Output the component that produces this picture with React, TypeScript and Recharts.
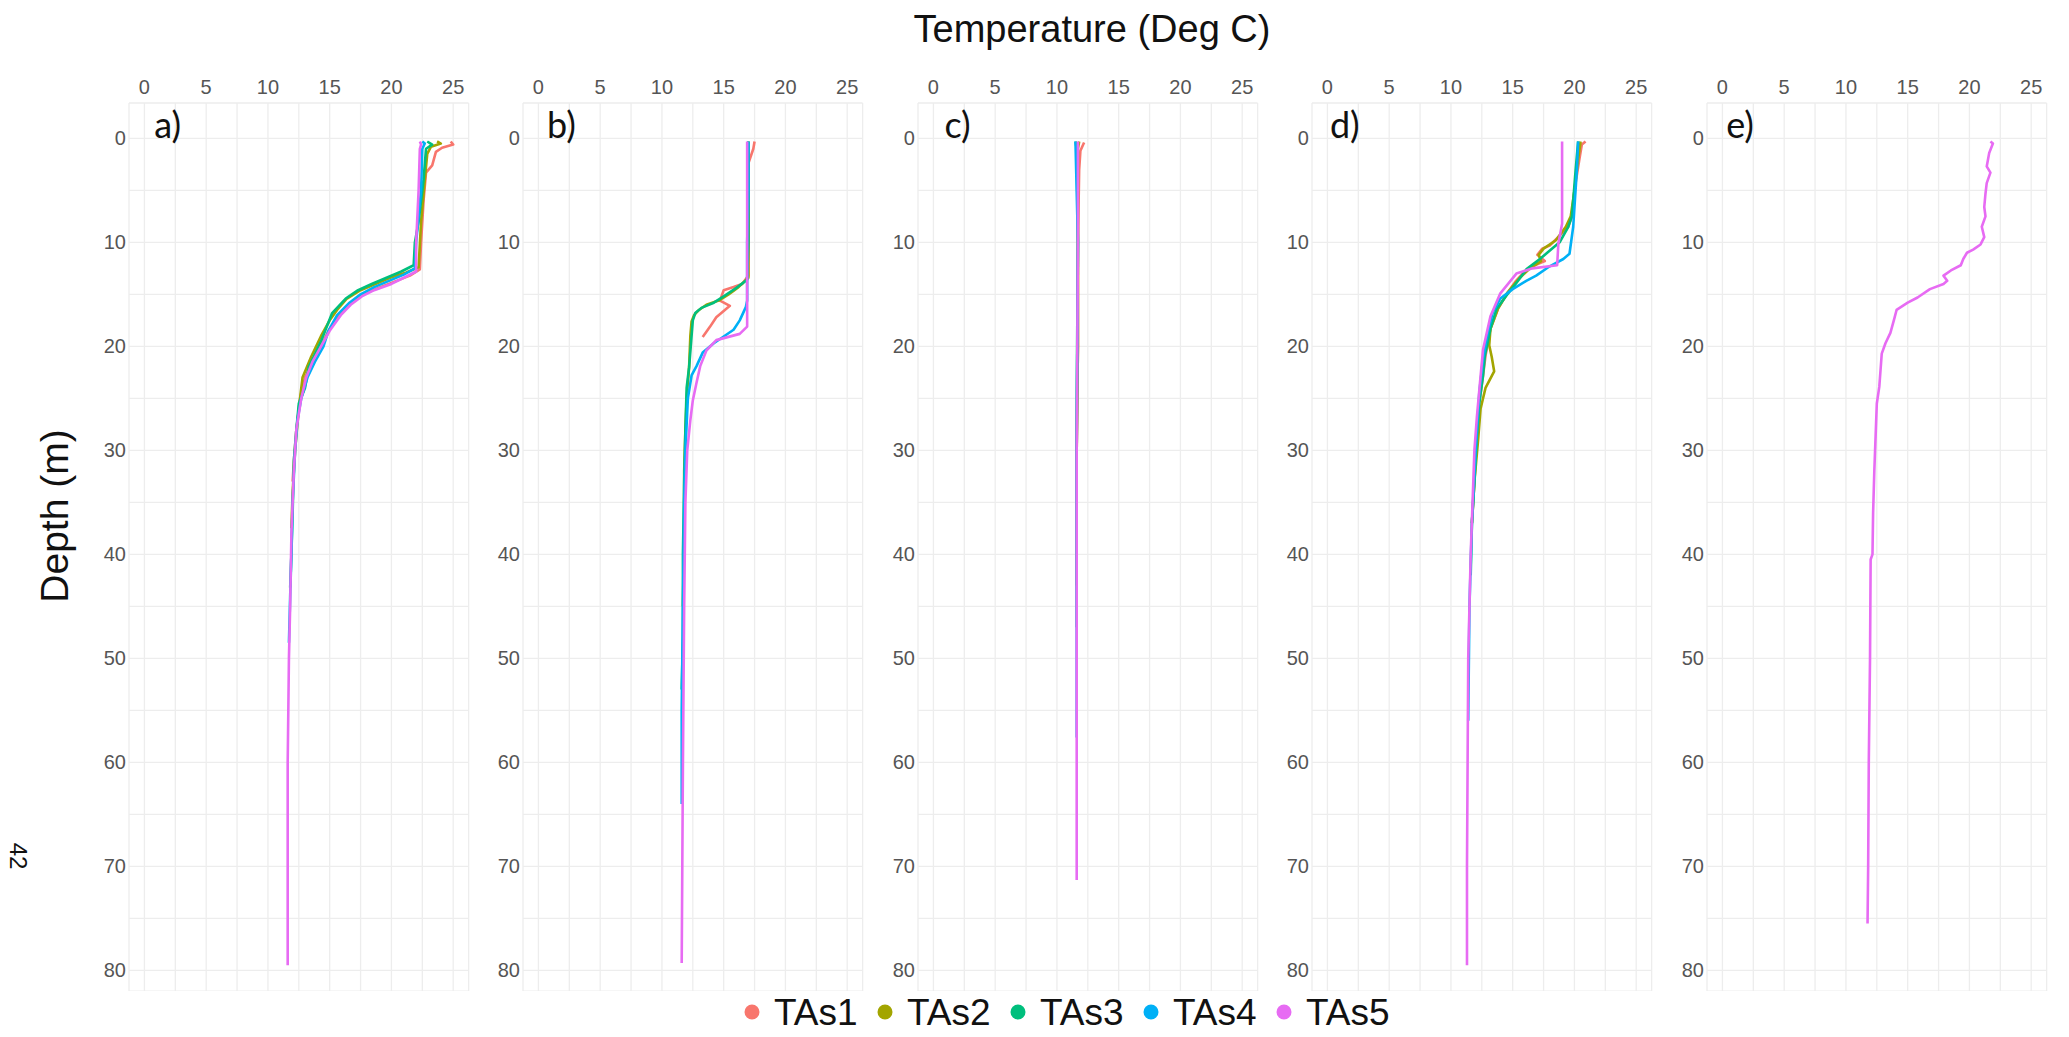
import React from 'react';
import { LineChart, Line, XAxis, YAxis, CartesianGrid, ReferenceDot } from 'recharts';

// ---- categories / labels ----
const SERIES = ['TAs1', 'TAs2', 'TAs3', 'TAs4', 'TAs5'];
const COLORS = ['#F8766D', '#A3A500', '#00BF7D', '#00B0F6', '#E76BF3'];
const PANEL_LABELS = ['a)', 'b)', 'c)', 'd)', 'e)'];
const TEMP_TICKS = [0, 2.5, 5, 7.5, 10, 12.5, 15, 17.5, 20, 22.5, 25];
const DEPTH_TICKS = [0, 5, 10, 15, 20, 25, 30, 35, 40, 45, 50, 55, 60, 65, 70, 75, 80];

// ---- data: [depth (m), temperature (deg C)] ----
const a1 = [[0.3,24.8],[0.6,25.0],[0.9,24.1],[1.3,23.6],[2.6,23.3],[3.3,22.8],[6,22.6],[10,22.4],[12.6,22.3],[13.2,21.5],[13.8,20.2],[14.4,18.9],[15,17.7],[15.8,16.7],[17,15.7],[18.5,14.9],[20,14.3],[21.5,13.6],[23,13.0],[25,12.6],[28,12.3],[31,12.1],[33,12.0]];
const a2 = [[0.3,23.7],[0.5,24.0],[0.8,23.2],[1.5,22.9],[4,22.7],[8,22.4],[12.4,22.2],[12.9,21.2],[13.4,19.9],[14,18.7],[14.6,17.5],[15.4,16.4],[16.5,15.6],[17.5,15.0],[19,14.3],[21,13.5],[23,12.8],[26,12.5],[30,12.2],[34,12.0],[37.5,11.9]];
const a3 = [[0.3,22.9],[0.6,23.3],[1,22.8],[4,22.6],[8,22.2],[10,21.9],[12.2,21.8],[12.8,20.8],[13.4,19.6],[14,18.4],[14.6,17.3],[15.4,16.3],[16.8,15.2],[18,14.8],[19.5,14.3],[20.5,13.9],[22,13.3],[24,13.0],[25.5,12.5],[28,12.3],[31,12.1],[36,12.0],[40,11.9],[43.2,11.8]];
const a4 = [[0.3,22.5],[0.5,22.7],[1,22.5],[5,22.4],[10,22.0],[12.5,21.9],[13.1,21.0],[13.7,19.8],[14.3,18.6],[15,17.5],[15.8,16.6],[17,15.6],[18.5,14.9],[20,14.5],[21.5,13.8],[23,13.2],[25,12.7],[27,12.4],[30,12.2],[35,12.0],[40,11.9],[44,11.8],[48.5,11.7]];
const a5 = [[0.3,22.3],[0.6,22.4],[1,22.3],[5,22.2],[10,22.0],[12.8,22.0],[13.4,21.0],[14,20.0],[14.6,18.6],[15.2,17.6],[16,16.7],[17,15.9],[18.5,15.0],[20,14.3],[21.5,13.6],[23,13.1],[25,12.7],[28,12.3],[32,12.1],[38,11.9],[45,11.8],[50,11.7],[60,11.6],[70,11.6],[79.5,11.6]];

const b1 = [[0.3,17.5],[1,17.4],[2.4,17.0],[8,17.0],[13.2,17.0],[14,16.5],[14.3,15.8],[14.6,15.0],[15.6,14.7],[16.1,15.5],[16.6,15.0],[17.2,14.4],[18.1,13.9],[19.1,13.3]];
const b2 = [[0.3,17.0],[5,17.0],[10,17.0],[13.4,17.0],[14.3,16.2],[15.0,15.4],[15.6,14.6],[16.0,13.6],[16.5,13.0],[17.0,12.6],[17.6,12.4],[19,12.3],[22,12.2],[25,12.0],[28,11.9],[32,11.8],[38,11.8],[45,11.7]];
const b3 = [[0.3,17.0],[5,17.0],[10,17.0],[13.6,16.9],[14.4,16.0],[15.2,15.0],[15.8,14.2],[16.3,13.2],[16.8,12.7],[17.5,12.5],[19,12.4],[22,12.2],[24,12.0],[28,11.9],[33,11.8],[40,11.7],[48,11.7],[53,11.6]];
const b4 = [[0.3,17.0],[5,17.0],[10,16.9],[15.6,16.9],[16.2,16.8],[17.5,16.3],[18.4,15.8],[19.7,14.2],[20.6,13.3],[21.9,12.8],[22.8,12.4],[25,12.1],[30,11.9],[35,11.8],[45,11.7],[55,11.6],[64,11.6]];
const b5 = [[0.3,16.9],[5,16.9],[10,16.9],[15,16.9],[18.1,16.9],[18.8,16.3],[19.4,14.4],[20.4,13.6],[21.9,13.1],[23.5,12.8],[25.2,12.5],[27.1,12.3],[30,12.05],[35,11.9],[45,11.8],[60,11.7],[79.3,11.6]];

const c1 = [[0.4,12.2],[1.2,11.9],[3,11.8],[10,11.7],[20,11.7],[30,11.6]];
const c2 = [[0.3,11.8],[1,11.7],[10,11.7],[20,11.7],[30,11.6],[43,11.6]];
const c3 = [[0.3,11.5],[1,11.6],[10,11.7],[25,11.6],[40,11.6],[47,11.6]];
const c4 = [[0.3,11.5],[10,11.7],[30,11.6],[45,11.6],[57.6,11.6]];
const c5 = [[0.3,11.7],[10,11.7],[30,11.6],[50,11.6],[71.3,11.6]];

const d1 = [[0.3,20.9],[0.6,20.6],[2,20.4],[5,20.0],[7.5,19.8],[8.5,19.5],[9.6,18.6],[10.3,18.0],[10.6,17.4],[11.2,17.0],[11.8,17.6],[12.3,16.6],[13,15.8],[13.8,15.2],[15,14.5],[16.4,13.8],[18.3,13.2],[20.9,12.8],[22.8,12.6],[25.4,12.3],[28.6,12.1],[33,11.9],[37,11.7]];
const d2 = [[0.3,20.5],[2,20.3],[5,20.0],[7.5,19.7],[8.5,19.3],[9.8,18.5],[10.6,17.5],[11.2,17.1],[11.8,17.3],[12.5,16.4],[13.5,15.5],[14.8,14.6],[16.4,13.8],[18.3,13.2],[19.9,13.1],[21,13.3],[22.4,13.5],[24,12.8],[26,12.4],[29,12.2],[33,11.9],[37,11.7]];
const d3 = [[0.3,20.3],[3,20.1],[7.5,19.8],[8.5,19.5],[10,18.8],[10.6,18.2],[11.6,17.2],[12.6,16.1],[13.9,15.3],[15.1,14.5],[16.4,13.7],[18.3,13.2],[20.9,12.75],[22.8,12.6],[25.4,12.3],[28.6,12.1],[33,11.9],[37,11.7],[42,11.6]];
const d4 = [[0.3,20.3],[3,20.2],[8.5,19.9],[11.1,19.6],[11.6,19.1],[12.3,18.0],[13.2,16.9],[13.7,16.1],[14.5,15.0],[15.4,14.0],[16.7,13.4],[18.6,13.0],[21.2,12.6],[24.4,12.3],[30,12.0],[37,11.7],[45,11.5],[56,11.4]];
const d5 = [[0.3,19.0],[4,19.0],[8.2,19.0],[10.1,18.7],[12.2,18.6],[12.5,16.6],[13,15.3],[14.9,14.0],[17.1,13.2],[20.3,12.6],[23.5,12.35],[26.8,12.1],[30,11.9],[40,11.6],[50,11.4],[60,11.35],[70,11.3],[79.5,11.3]];

const e5 = [[0.3,21.7],[0.5,21.9],[1.4,21.6],[2.7,21.4],[3.3,21.7],[4.3,21.4],[5.3,21.3],[6.6,21.2],[7.5,21.3],[8.5,21.0],[9.5,21.2],[10.2,20.9],[10.7,20.3],[11.0,19.8],[11.6,19.5],[12.2,19.3],[12.7,18.5],[13.2,17.9],[13.7,18.2],[14.0,17.9],[14.5,16.8],[15.3,15.8],[15.8,15.0],[16.5,14.1],[17.4,13.9],[18.7,13.6],[19.7,13.2],[20.7,12.9],[22.3,12.8],[23.9,12.7],[25.5,12.5],[28.7,12.4],[31.9,12.3],[36,12.2],[40,12.15],[40.5,12.0],[50,11.95],[60,11.85],[70,11.8],[75.5,11.75]];

const PANEL_DATA = [
  [a1, a2, a3, a4, a5],
  [b1, b2, b3, b4, b5],
  [c1, c2, c3, c4, c5],
  [d1, d2, d3, d4, d5],
  [null, null, null, null, e5],
];
const LABEL_TEMPS = [0.8, 0.7, 0.9, 0.2, 0.3];

// ---- layout ----
const X_DOMAIN = [-1.25, 26.25];
const Y_DOMAIN = [-3.4, 82];
const X0 = 144;
const STEP = 394.5;
const PX_PER_DEG = 12.35;
const PX_PER_M = 10.4;
const Y0 = 138;
const YAXIS_W = 40;
const XAXIS_H = 30;
const RIGHT_M = 5;
const PLOT_W = (X_DOMAIN[1] - X_DOMAIN[0]) * PX_PER_DEG;
const PLOT_H = (Y_DOMAIN[1] - Y_DOMAIN[0]) * PX_PER_M;
const PLOT_TOP = Y0 + Y_DOMAIN[0] * PX_PER_M;
const CHART_W = YAXIS_W + PLOT_W + RIGHT_M;
const CHART_H = XAXIS_H + PLOT_H;

const TICK_STYLE = { fontSize: 20, fill: '#555555', fontFamily: 'Liberation Sans, Arial, sans-serif' };

const toPts = (arr) => arr.map(([d, t]) => ({ d, t }));

function Panel({ idx }) {
  const left = X0 + idx * STEP + X_DOMAIN[0] * PX_PER_DEG - YAXIS_W;
  const series = PANEL_DATA[idx];
  const label = PANEL_LABELS[idx];
  return (
    <div style={{ position: 'absolute', left, top: PLOT_TOP - XAXIS_H }}>
      <LineChart width={CHART_W} height={CHART_H} margin={{ top: 0, right: RIGHT_M, bottom: 0, left: 0 }}>
        <CartesianGrid stroke="#EDEDED" strokeWidth={1.3} />
        <XAxis
          dataKey="t"
          type="number"
          orientation="top"
          domain={X_DOMAIN}
          allowDataOverflow
          ticks={TEMP_TICKS}
          interval={0}
          tickFormatter={(v) => (v % 5 === 0 ? String(v) : '')}
          axisLine={false}
          tickLine={false}
          tickSize={0}
          tickMargin={9}
          height={XAXIS_H}
          tick={TICK_STYLE}
        />
        <YAxis
          type="number"
          domain={Y_DOMAIN}
          reversed
          allowDataOverflow
          ticks={DEPTH_TICKS}
          interval={0}
          tickFormatter={(v) => (v % 10 === 0 ? String(v) : '')}
          axisLine={false}
          tickLine={false}
          tickSize={0}
          tickMargin={3}
          width={YAXIS_W}
          tick={TICK_STYLE}
        />
        {series.map((s, i) =>
          s ? (
            <Line
              key={SERIES[i]}
              name={SERIES[i]}
              data={toPts(s)}
              dataKey="d"
              type="linear"
              stroke={COLORS[i]}
              strokeWidth={2.6}
              strokeLinejoin="round"
              dot={false}
              activeDot={false}
              isAnimationActive={false}
            />
          ) : null
        )}
        <ReferenceDot
          x={LABEL_TEMPS[idx]}
          y={0}
          r={0}
          ifOverflow="visible"
          shape={(p) => (
            <text x={p.cx} y={p.cy} fontSize={36} fontFamily="Lato, 'Open Sans', sans-serif" fill="#111">
              {label}
            </text>
          )}
        />
      </LineChart>
    </div>
  );
}

export default function App() {
  const legendY = 1012;
  const legendX0 = 752;
  const legendStep = 133;
  return (
    <div style={{ position: 'absolute', left: 0, top: 0, width: 2069, height: 1037, background: '#fff', overflow: 'hidden' }}>
      {PANEL_LABELS.map((_, i) => (
        <Panel key={i} idx={i} />
      ))}
      <svg width={2069} height={1037} style={{ position: 'absolute', left: 0, top: 0, pointerEvents: 'none' }}>
        <text x={1092} y={42} textAnchor="middle" fontSize={38} fontFamily="Liberation Sans, Arial, sans-serif" fill="#111">
          Temperature (Deg C)
        </text>
        <text transform="translate(68,516) rotate(-90)" textAnchor="middle" fontSize={39} fontFamily="Liberation Sans, Arial, sans-serif" fill="#111">
          Depth (m)
        </text>
        <text transform="translate(10,856) rotate(90)" textAnchor="middle" fontSize={24} fontFamily="Liberation Sans, Arial, sans-serif" fill="#111">
          42
        </text>
        {SERIES.map((name, i) => (
          <g key={name}>
            <circle cx={legendX0 + i * legendStep} cy={legendY} r={7.5} fill={COLORS[i]} />
            <text x={legendX0 + i * legendStep + 22} y={legendY + 13} fontSize={37} fontFamily="Liberation Sans, Arial, sans-serif" fill="#111">
              {name}
            </text>
          </g>
        ))}
      </svg>
    </div>
  );
}
